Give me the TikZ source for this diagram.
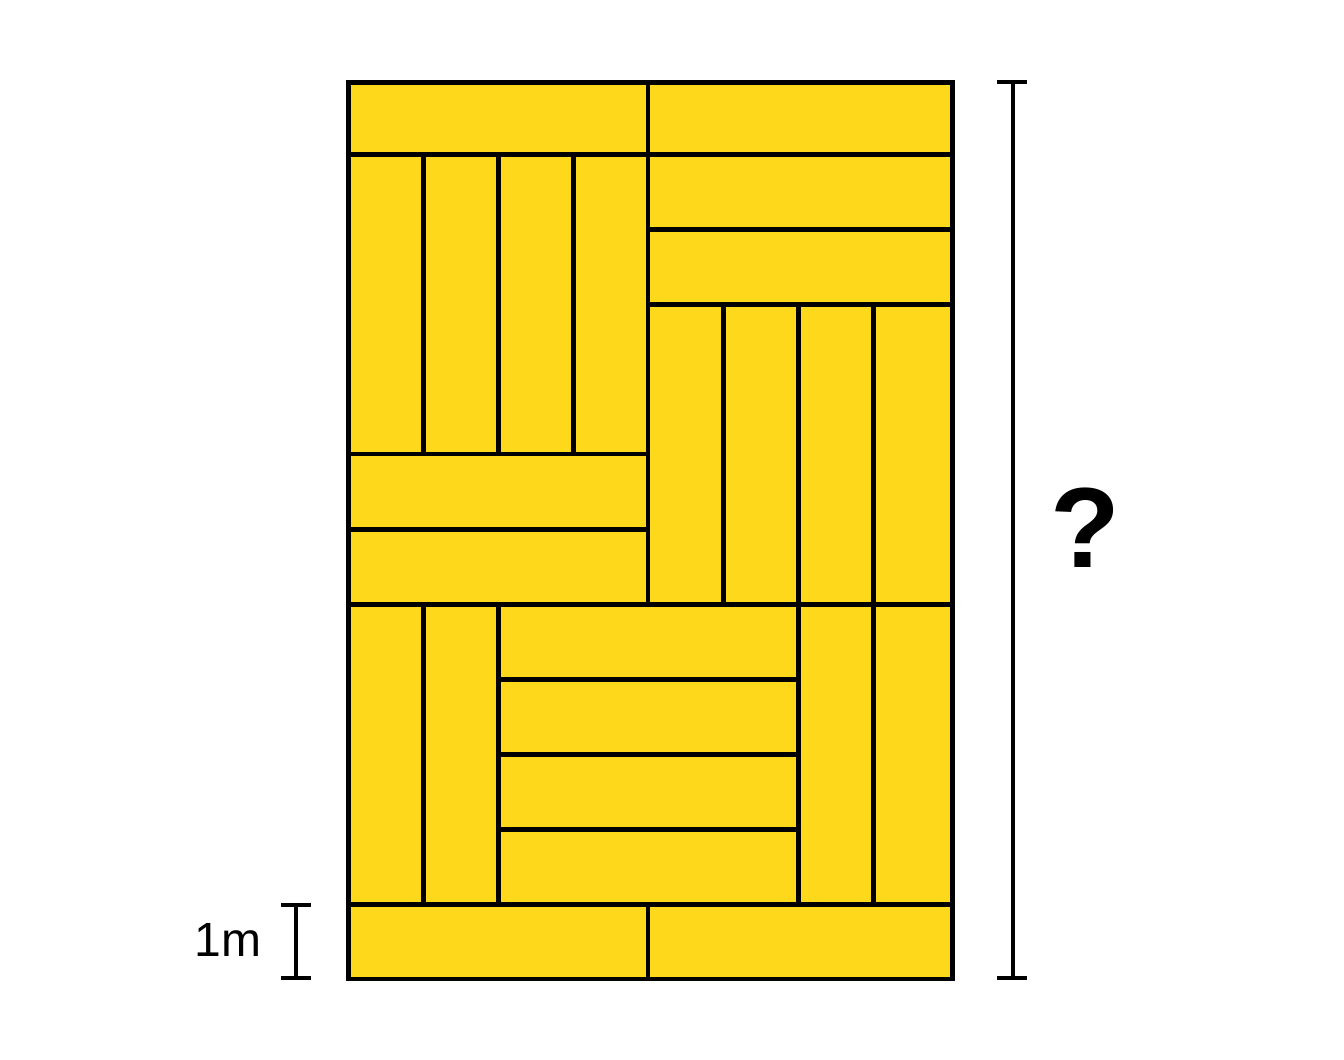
\documentclass[tikz,border=0pt]{standalone}
\usepackage{fontspec}
\setmainfont{Liberation Sans}
\definecolor{plank}{HTML}{FDD81B}
\newcommand*\gx[1]{\ifcase#1 348.5\or 423.5\or 498.5\or 573.5\or 648\or 723.5\or 798.5\or 873.5\or 952.5\fi}
\newcommand*\gy[1]{\ifcase#1 82.5\or 154.5\or 229.5\or 304.5\or 379.5\or 454\or 529.5\or 604.5\or 679.5\or 754.5\or 829.5\or 904.5\or 979\fi}
\newcommand*\plank[4]{\draw[plankbox] (\gx{#1},\gy{#2}) rectangle (\gx{#3},\gy{#4});}
\begin{document}
\begin{tikzpicture}[x=1pt,y=-1pt,
  plankbox/.style={fill=plank,draw=black,line width=4.5pt,line join=miter},
  dimline/.style={draw=black,line width=4pt}]
\useasboundingbox (0,0) rectangle (1344,1060);
\fill[white] (0,0) rectangle (1344,1060);
% top row
\plank{0}{0}{4}{1}
\plank{4}{0}{8}{1}
% top-left verticals
\plank{0}{1}{1}{5}\plank{1}{1}{2}{5}\plank{2}{1}{3}{5}\plank{3}{1}{4}{5}
% top-right horizontals
\plank{4}{1}{8}{2}\plank{4}{2}{8}{3}
% left middle horizontals
\plank{0}{5}{4}{6}\plank{0}{6}{4}{7}
% right middle verticals
\plank{4}{3}{5}{7}\plank{5}{3}{6}{7}\plank{6}{3}{7}{7}\plank{7}{3}{8}{7}
% bottom block
\plank{0}{7}{1}{11}\plank{1}{7}{2}{11}
\plank{2}{7}{6}{8}\plank{2}{8}{6}{9}\plank{2}{9}{6}{10}\plank{2}{10}{6}{11}
\plank{6}{7}{7}{11}\plank{7}{7}{8}{11}
% bottom row
\plank{0}{11}{4}{12}\plank{4}{11}{8}{12}
\draw[draw=black,line width=4.5pt] (\gx{0},\gy{0}) rectangle (\gx{8},\gy{12});
% right dimension
\coordinate (rt) at (1013,82);
\coordinate (rb) at (1013,978);
\draw[dimline] (rt) -- (rb);
\draw[dimline] (997,82) -- (1027,82);
\draw[dimline] (997,978) -- (1027,978);
\node (q) at (1085,528) {\fontsize{114}{120}\selectfont\bfseries ?};
% left dimension
\coordinate (lt) at (296,905);
\coordinate (lb) at (296,978);
\draw[dimline] (lt) -- (lb);
\draw[dimline] (281,905) -- (311,905);
\draw[dimline] (281,978) -- (311,978);
\node (one) at (228,940) {\fontsize{48}{56}\selectfont 1m};
\end{tikzpicture}
\end{document}
